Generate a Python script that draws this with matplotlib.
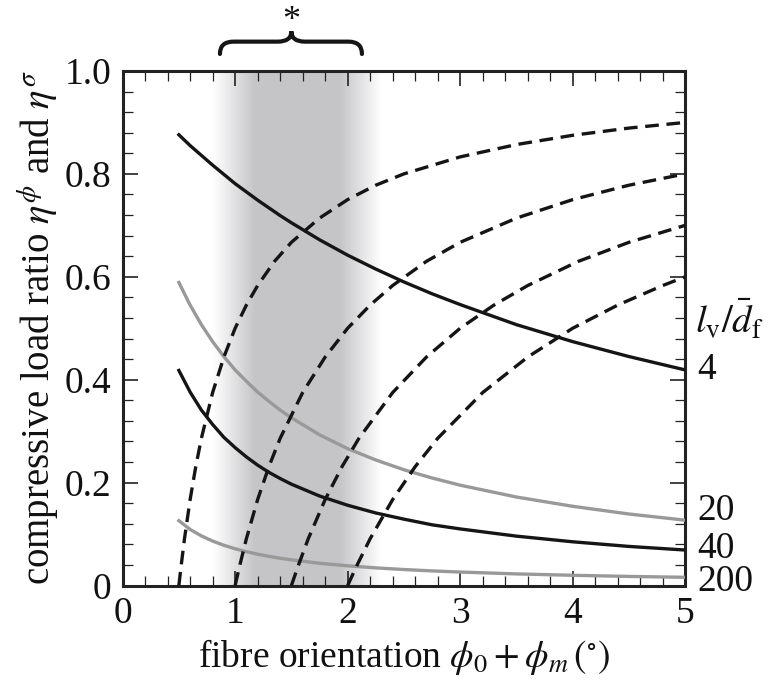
import matplotlib
matplotlib.use('Agg')
import matplotlib.pyplot as plt
from matplotlib.path import Path
import matplotlib.patches as mpatches
import numpy as np

plt.rcParams['font.family'] = ['Liberation Serif', 'DejaVu Serif']
plt.rcParams['mathtext.fontset'] = 'stix'

# solid curves
xs = [0.5, 0.6, 0.7, 0.8, 0.9, 1.0, 1.1, 1.2, 1.3, 1.4, 1.5,
      1.75, 2.0, 2.25, 2.5, 2.75, 3.0, 3.5, 4.0, 4.5, 5.0]
eta4 = [0.876, 0.855, 0.836, 0.817, 0.799, 0.781, 0.765, 0.749, 0.734, 0.719, 0.705,
        0.672, 0.642, 0.615, 0.590, 0.567, 0.546, 0.507, 0.474, 0.445, 0.419]
eta20 = [0.589, 0.545, 0.507, 0.474, 0.445, 0.419, 0.397, 0.376, 0.358, 0.341, 0.326,
         0.293, 0.266, 0.244, 0.225, 0.209, 0.195, 0.172, 0.154, 0.139, 0.127]
eta40 = [0.418, 0.376, 0.341, 0.313, 0.288, 0.268, 0.250, 0.234, 0.220, 0.208, 0.197,
         0.174, 0.156, 0.141, 0.129, 0.118, 0.110, 0.096, 0.085, 0.076, 0.069]
eta200 = [0.126, 0.109, 0.0965, 0.0864, 0.0782, 0.0715, 0.0658, 0.0609, 0.0567, 0.0531, 0.0499,
          0.0433, 0.0383, 0.0343, 0.0311, 0.0284, 0.0262, 0.0226, 0.0199, 0.0177, 0.0160]

# dashed curves
xa = [0.5, 0.52, 0.55, 0.6, 0.65, 0.7, 0.8, 0.9, 1.0, 1.1, 1.2, 1.35, 1.5,
      1.75, 2.0, 2.25, 2.5, 3.0, 3.5, 4.0, 4.5, 5.0]
ya = [0, 0.038, 0.091, 0.167, 0.231, 0.286, 0.375, 0.444, 0.5, 0.545, 0.583, 0.630, 0.667,
      0.714, 0.75, 0.778, 0.8, 0.833, 0.857, 0.875, 0.889, 0.9]
xb = [1.0, 1.04, 1.1, 1.2, 1.3, 1.4, 1.6, 1.8, 2.0, 2.2, 2.4, 2.7, 3.0, 3.5, 4.0, 4.5, 5.0]
yb = [0, 0.038, 0.091, 0.167, 0.231, 0.286, 0.375, 0.444, 0.5, 0.545, 0.583, 0.630, 0.667,
      0.714, 0.75, 0.778, 0.8]
xc = [1.5, 1.56, 1.65, 1.8, 1.95, 2.1, 2.4, 2.7, 3.0, 3.3, 3.6, 4.05, 4.5, 5.0]
yc = [0, 0.038, 0.091, 0.167, 0.231, 0.286, 0.375, 0.444, 0.5, 0.545, 0.583, 0.630, 0.667, 0.7]
xd = [2.0, 2.08, 2.2, 2.4, 2.6, 2.8, 3.2, 3.6, 4.0, 4.4, 4.8, 5.0]
yd = [0, 0.038, 0.091, 0.167, 0.231, 0.286, 0.375, 0.444, 0.5, 0.545, 0.583, 0.6]

ratio_labels = ['4', '20', '40', '200']
ratio_end = [0.419, 0.127, 0.069, 0.016]
xticks = [0, 1, 2, 3, 4, 5]
xticklabels = ['0', '1', '2', '3', '4', '5']
yticks = [0, 0.2, 0.4, 0.6, 0.8, 1.0]
yticklabels = ['0', '0.2', '0.4', '0.6', '0.8', '1.0']

fig = plt.figure(figsize=(7.76, 6.87), dpi=100)
ax = fig.add_axes([0.158, 0.1477, 0.725, 0.749])

# shaded band with soft edges
band_lo, band_hi = 0.8, 2.3
n = 300
gx = np.linspace(band_lo, band_hi, n)
alpha = np.ones(n)
alpha[gx < 1.17] = ((gx[gx < 1.17] - band_lo) / (1.17 - band_lo))
alpha[gx > 1.93] = ((band_hi - gx[gx > 1.93]) / (band_hi - 1.93))
alpha = np.clip(alpha, 0, 1)
img = np.zeros((1, n, 4))
img[..., 0] = 0.775
img[..., 1] = 0.775
img[..., 2] = 0.785
img[0, :, 3] = alpha
ax.imshow(img, extent=[band_lo, band_hi, 0, 1], aspect='auto', zorder=0,
          interpolation='bilinear')

black = '#151515'
grey = '#999999'
ax.plot(xs, eta4, color=black, lw=2.4, zorder=3)
ax.plot(xs, eta20, color=grey, lw=2.4, zorder=3)
ax.plot(xs, eta40, color=black, lw=2.4, zorder=3)
ax.plot(xs, eta200, color=grey, lw=2.4, zorder=3)

for x, y in [(xa, ya), (xb, yb), (xc, yc), (xd, yd)]:
    ax.plot(x, y, color=black, lw=2.4, dashes=(4.1, 2.3), zorder=3)

ax.set_xlim(0, 5)
ax.set_ylim(0, 1)
ax.set_xticks(xticks)
ax.set_xticklabels(xticklabels)
ax.set_yticks(yticks)
ax.set_yticklabels(yticklabels)
ax.set_xticks(np.arange(0, 5.01, 0.2), minor=True)
ax.set_yticks(np.arange(0, 1.001, 0.04), minor=True)
ax.tick_params(which='both', direction='in', top=True, right=True,
               labelsize=27, color='#222222', labelcolor='#111111')
ax.tick_params(which='major', length=11, width=1.2)
ax.tick_params(which='minor', length=7.5, width=0.9)
ax.tick_params(axis='x', pad=8)
ax.tick_params(axis='y', pad=8)
for s in ax.spines.values():
    s.set_linewidth(2.2)
    s.set_color('#222222')

ax.set_xlabel(r'fibre orientation $\phi_0 + \phi_m\,(^{\circ})$', fontsize=27,
              color='#111111')
ax.set_ylabel(r'compressive load ratio $\eta^{\phi}$ and $\eta^{\sigma}$', fontsize=28,
              color='#111111')
ax.xaxis.set_label_coords(0.5, -0.1)
ax.yaxis.set_label_coords(-0.108, 0.5)

# right-hand labels
ax.text(5.09, 0.515, r'$l_{\mathrm{v}}/\bar{d}_{\mathrm{f}}$', fontsize=28,
        ha='left', va='center', clip_on=False, color='#111111')
offs = [0.0, 0.018, 0.002, -0.008]
for lab, yv, o in zip(ratio_labels, ratio_end, offs):
    ax.text(5.11, yv + o, lab, fontsize=27, ha='left', va='center',
            clip_on=False, color='#111111')

# curly brace above the band
x1, x2, xm = 0.865, 2.127, 1.5
y0, ya_, y1 = 1.033, 1.057, 1.077
r = 0.12
verts = [(x1, y0), (x1, ya_), (x1 + r, ya_),
         (xm - r, ya_), (xm, ya_), (xm, y1),
         (xm, ya_), (xm + r, ya_),
         (x2 - r, ya_), (x2, ya_), (x2, y0)]
codes = [Path.MOVETO, Path.CURVE3, Path.CURVE3,
         Path.LINETO, Path.CURVE3, Path.CURVE3,
         Path.CURVE3, Path.CURVE3,
         Path.LINETO, Path.CURVE3, Path.CURVE3]
brace = mpatches.PathPatch(Path(verts, codes), fill=False, lw=3.0,
                           color=black, clip_on=False, capstyle='round')
ax.add_patch(brace)
ax.text(xm, 1.097, '*', fontsize=26, ha='center', va='center', clip_on=False,
        color='#111111')

plt.savefig('out.png', dpi=100)
